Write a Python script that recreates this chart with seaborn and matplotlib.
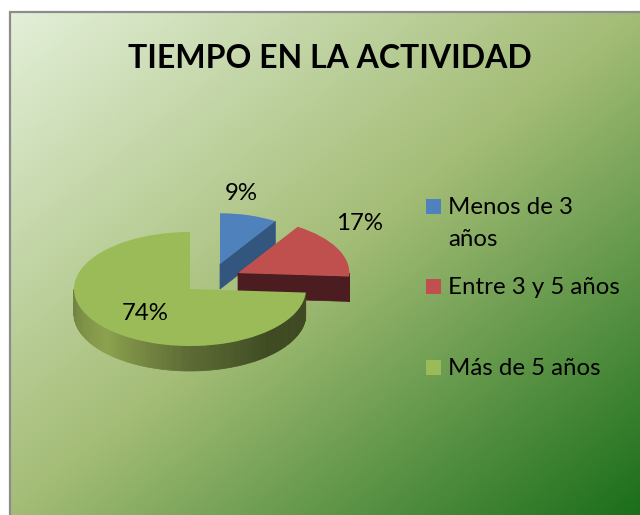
import numpy as np
import seaborn as sns
import matplotlib.pyplot as plt
from matplotlib.patches import Rectangle

categories = ["Menos de 3\naños", "Entre 3 y 5 años", "Más de 5 años"]
values = [9, 17, 74]
title = "TIEMPO EN LA ACTIVIDAD"

top_colors = ["#4f81bd", "#c0504d", "#9bbb59"]
side_stops = [["#33567f"], ["#4b1d20"], ["#6f8040", "#8da24f", "#5d6c35", "#3e4a22", "#414a22"]]
bg_stops = ["#e3efd8", "#a3bc75", "#1a6e1a"]

# layout, pixels of the 640x515 picture
W, H = 640, 515
CX, CY, RX, RY = 190, 289, 116, 57
DEPTH = 25 / RY
shift = [(30 / RX, 25 / RY), (48 / RX, 16 / RY), (0, 0)]
radius = [0.89, 0.96, 1.0]
label_xy = [(241, 193), (360, 224), (145, 313)]
legend_y = [206, 286, 367]

sns.set_theme(style="white")
plt.rcParams['font.family'] = ['Lato', 'DejaVu Sans']

fig = plt.figure(figsize=(W / 100, H / 100), dpi=100, facecolor="white")

# background and frame, in pixels
bg = fig.add_axes([0, 0, 1, 1], zorder=0)
bg.set_xlim(0, W)
bg.set_ylim(H, 0)
bg.axis("off")
palette = sns.blend_palette(bg_stops, n_colors=256)
xx, yy = np.meshgrid(np.linspace(0, 1, 320), np.linspace(0, 1, 260))
shade = np.array(palette)[((xx + yy) / 2 * 255).astype(int)]
bg.imshow(shade, extent=(10, W, H, 12), aspect="auto", interpolation="bilinear")
bg.set_xlim(0, W)
bg.set_ylim(H, 0)
bg.plot([10, 10], [H, 12], color="#8c8c8c", lw=1.6, solid_capstyle="butt")
bg.plot([9, W], [12, 12], color="#8c8c8c", lw=1.6, solid_capstyle="butt")

# pie, unit circle squashed by the axis limits
ax = fig.add_axes([0, 0, 1, 1], zorder=1)
ax.patch.set_alpha(0)
wedges, _ = ax.pie(values, colors=top_colors, startangle=90, counterclock=False,
                   wedgeprops={"linewidth": 0})
ax.set_aspect("auto")
ax.set_xlim(-CX / RX, (W - CX) / RX)
ax.set_ylim((CY - H) / RY, CY / RY)
ax.axis("off")


def draw_side(w, stops, z):
    cx, cy = w.center
    r = w.r
    # cut face on the clockwise end, only when it looks down to the viewer
    a = np.radians(w.theta1 if w.theta1 > -90 else w.theta2)
    if w.theta1 > -90 and np.cos(a) > 0:
        x = [cx, cx + r * np.cos(a), cx + r * np.cos(a), cx]
        y = [cy, cy + r * np.sin(a), cy + r * np.sin(a) - DEPTH, cy - DEPTH]
        ax.fill(x, y, color=stops[0], lw=0.5, zorder=z)
    # outer rim, front half only
    lo, hi = max(w.theta1, -180), min(w.theta2, 0)
    if hi <= lo:
        return
    edges = np.radians(np.linspace(lo, hi, 160))
    cols = sns.blend_palette(stops, n_colors=160) if len(stops) > 1 else stops * 160
    for i in range(len(edges) - 1):
        ex = cx + r * np.cos(edges[i:i + 2])
        ey = cy + r * np.sin(edges[i:i + 2])
        ax.fill(np.r_[ex, ex[::-1]], np.r_[ey, ey[::-1] - DEPTH], color=cols[i], lw=0.5, zorder=z)


for i, w in enumerate(wedges):
    w.set_center(shift[i])
    w.set_radius(radius[i])
    w.set_zorder(2 * i + 3)
    draw_side(w, side_stops[i], 2 * i + 2)

# texts above everything
fig.text(330 / W, 1 - 58 / H, title, fontsize=23, fontweight="bold", color="black",
         ha="center", va="center")
for v, (x, y) in zip(values, label_xy):
    fig.text(x / W, 1 - y / H, f"{v}%", fontsize=17.3, color="black", ha="center", va="center")

for i, name in enumerate(categories):
    bg.add_patch(Rectangle((426, legend_y[i] - 7), 15, 15, color=top_colors[i], lw=0))
    fig.text(448 / W, 1 - (legend_y[i] - 9) / H, name, fontsize=17.3, color="black",
             ha="left", va="top", linespacing=1.65)

fig.savefig("out.png", dpi=100)
